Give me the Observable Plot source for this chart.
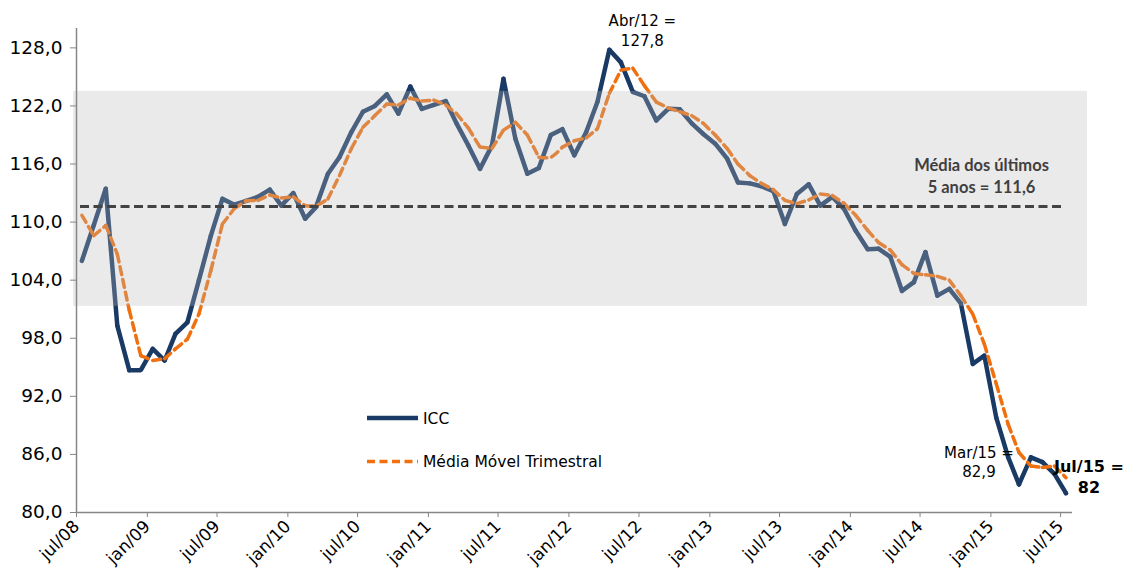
<!DOCTYPE html>
<html><head><meta charset="utf-8">
<script src="https://cdn.jsdelivr.net/npm/d3@7"></script>
<script src="https://cdn.jsdelivr.net/npm/@observablehq/plot@0.6"></script>
<style>
body{margin:0;background:#fff;}
#wrap{position:relative;width:1130px;height:573px;}
</style></head><body><div id="wrap"></div>
<script>
// ---- data ----
const firstMonth = "2008-07";
const icc = [106.0,109.7,113.45,99.3,94.7,94.7,96.9,95.7,98.45,99.65,104.0,108.6,112.4,111.8,112.2,
  112.6,113.35,111.7,113.0,110.35,111.55,115.0,116.7,119.3,121.4,122.0,123.2,121.2,124.0,
  121.7,122.1,122.5,120.2,117.9,115.5,117.9,124.8,118.6,115.0,115.6,119.0,119.6,116.9,
  119.3,122.4,127.8,126.5,123.45,123.0,120.5,121.7,121.65,120.2,119.1,118.1,116.55,114.1,
  114.0,113.7,113.2,109.8,112.9,113.9,111.7,112.6,111.4,109.1,107.2,107.25,106.4,102.9,
  103.8,106.9,102.4,103.1,101.6,95.35,96.2,89.8,85.7,82.9,85.7,85.2,84.0,82.0];
const mediaMovel = [110.7,108.6,109.65,106.7,100.9,96.2,95.7,95.9,96.9,97.9,100.5,105.0,109.8,111.4,112.2,
  112.25,112.8,112.5,112.6,111.7,111.7,112.4,114.8,117.6,119.8,121.0,122.2,122.1,122.8,
  122.5,122.6,122.1,121.2,119.7,117.75,117.6,119.5,120.3,119.0,116.7,116.7,117.75,118.4,
  118.7,119.65,123.3,125.7,125.9,124.1,122.4,121.8,121.4,121.0,120.2,119.0,117.6,116.0,
  114.8,114.0,113.35,112.25,111.9,112.3,112.9,112.75,111.95,110.7,109.15,107.9,107.1,105.6,
  104.7,104.55,104.4,104.0,102.4,100.5,97.4,93.3,89.1,86.2,84.8,84.65,84.8,83.6];
const media5anos = [111.6];
const faixa = [101.3, 123.5];
const yTicks = [80,86,92,98,104,110,116,122,128];
const xTickLabels = ["jul/08","jan/09","jul/09","jan/10","jul/10","jan/11","jul/11","jan/12","jul/12","jan/13","jul/13","jan/14","jul/14","jan/15","jul/15"];
const annotations = [
  {month: 45, lines: ["Abr/12 =", "127,8"], kind: "peak"},
  {month: 80, lines: ["Mar/15 =", "82,9"], kind: "low"},
  {month: 84, lines: ["Jul/15 =", "82"], kind: "last"}
];
const legendLabels = ["ICC", "Média Móvel Trimestral"];
const mediaLabel = ["Média dos últimos", "5 anos = 111,6"];

// ---- build ----
const monthNames = ["jan","fev","mar","abr","mai","jun","jul","ago","set","out","nov","dez"];
const start = new Date(firstMonth + "-01T00:00:00Z");
const monthStart = i => d3.utcMonth.offset(start, i);
const rows = icc.map((v, i) => ({
  date: d3.utcDay.offset(monthStart(i), 14),
  icc: v, mm: mediaMovel[i]
}));
const xDomain = [start, monthStart(icc.length)];
const tickDates = xTickLabels.map(s => {
  const [m, y] = s.split("/");
  return new Date(Date.UTC(2000 + (+y), monthNames.indexOf(m), 1));
});
const tickLabelMap = new Map(tickDates.map((d, i) => [+d, xTickLabels[i]]));
const fmtY = v => v.toFixed(1).replace(".", ",");
const annRows = annotations.map(a => ({...rows[a.month], text: a.lines.join("\n"), kind: a.kind}));

const NAVY = "#1a3a66", ORANGE = "#f07010", AXIS = "#868686";
const FONT = "'DejaVu Sans', 'Liberation Sans', Arial, sans-serif";

const chart = Plot.plot({
  width: 1130, height: 573,
  marginLeft: 76, marginRight: 58, marginTop: 28, marginBottom: 61,
  style: {fontFamily: FONT, fontSize: "15px", color: "#000", background: "#fff", overflow: "visible"},
  x: {type: "utc", domain: xDomain, axis: null},
  y: {domain: [80, 130], axis: null},
  marks: [
    Plot.lineY(rows, {x: "date", y: "icc", stroke: NAVY, strokeWidth: 4.5, strokeLinejoin: "miter", ariaLabel: "icc"}),
    Plot.lineY(rows, {x: "date", y: "mm", stroke: ORANGE, strokeWidth: 3.5, strokeDasharray: "8,5", curve: "catmull-rom", ariaLabel: "mm"}),
    Plot.ruleY(media5anos, {stroke: "#111", strokeWidth: 3, strokeDasharray: "9,4.5", insetLeft: 4, insetRight: 9}),
    Plot.rect([faixa], {x1: () => xDomain[0], x2: () => xDomain[1], y1: d => d[0], y2: d => d[1],
      fill: "#b9b9b9", fillOpacity: 0.3, insetLeft: -3, insetRight: -15}),
    Plot.ruleX([xDomain[0]], {stroke: AXIS, strokeWidth: 1.5}),
    Plot.ruleY([80], {stroke: AXIS, strokeWidth: 1.5}),
    Plot.axisY({ticks: yTicks, tickFormat: fmtY, tickSize: 6, tickPadding: 8, stroke: AXIS, fill: "#000", label: null,
      fontSize: 18.5}),
    Plot.axisX({ticks: tickDates, tickFormat: d => tickLabelMap.get(+d), tickRotate: -45, tickSize: 5, tickPadding: 6,
      stroke: AXIS, fill: "#000", label: null, fontSize: 17}),
    Plot.text(media5anos, {y: d => d, frameAnchor: "right", dx: -91, dy: -14, lineAnchor: "bottom", textAnchor: "middle",
      text: () => mediaLabel.join("\n"), fontFamily: "Lato, 'Open Sans', sans-serif", fontWeight: "bold",
      fontSize: 16.5, fill: "#404040", lineHeight: 1.3}),
    Plot.text(annRows.filter(d => d.kind === "peak"), {x: "date", y: "icc", text: "text", dx: 33, dy: -4,
      lineAnchor: "bottom", fontSize: 15, fill: "#000", lineHeight: 1.3}),
    Plot.text(annRows.filter(d => d.kind === "low"), {x: "date", y: "icc", text: "text", dx: -40, dy: -7,
      lineAnchor: "bottom", fontSize: 15, fill: "#000", lineHeight: 1.3}),
    Plot.text(annRows.filter(d => d.kind === "last"), {x: "date", y: "icc", text: "text", dx: 23, dy: 0,
      lineAnchor: "bottom", fontSize: 16, fontWeight: "bold", fill: "#000", lineHeight: 1.35})
  ]
});

// shadow filter for the series lines
const svg = d3.select(chart);
const defs = svg.insert("defs", ":first-child");
const f = defs.append("filter").attr("id", "shadow").attr("x", "-5%").attr("y", "-5%").attr("width", "110%").attr("height", "115%");
f.append("feDropShadow").attr("dx", 2.5).attr("dy", 3).attr("stdDeviation", 1.6)
  .attr("flood-color", "#000").attr("flood-opacity", 0.35);
svg.selectAll('g[aria-label="icc"], g[aria-label="mm"]').attr("filter", "url(#shadow)");

// legend
const lg = svg.append("g").attr("font-family", FONT).attr("text-anchor", "start");
lg.append("line").attr("x1", 367).attr("x2", 418).attr("y1", 418).attr("y2", 418)
  .attr("stroke", NAVY).attr("stroke-width", 4.5);
lg.append("text").attr("x", 423).attr("y", 423.5).style("font-size", "15.5px").attr("fill", "#000").text(legendLabels[0]);
lg.append("line").attr("x1", 367).attr("x2", 418).attr("y1", 461.5).attr("y2", 461.5)
  .attr("stroke", ORANGE).attr("stroke-width", 3.5).attr("stroke-dasharray", "8,4.5");
lg.append("text").attr("x", 423).attr("y", 467).style("font-size", "15.5px").attr("fill", "#000").text(legendLabels[1]);

document.getElementById("wrap").appendChild(chart);
</script></body></html>
